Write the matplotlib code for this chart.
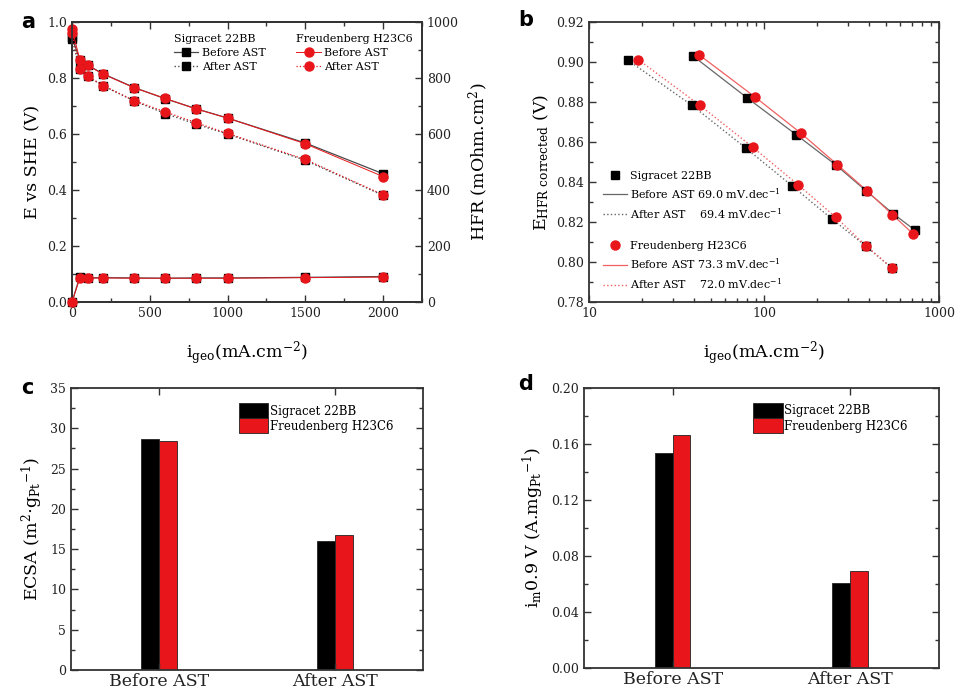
import matplotlib

matplotlib.use("Agg")
import matplotlib.pyplot as plt
import numpy as np
from matplotlib.lines import Line2D
from matplotlib.ticker import MultipleLocator, LogLocator, NullFormatter

plt.rcParams["font.family"] = ["DejaVu Serif"]
plt.rcParams["mathtext.fontset"] = "dejavuserif"

BLACK = "#000000"
RED = "#e8161b"
GREY = "#4a4a4a"
SPINE = "#333333"

# --- panel a: polarisation curves + HFR ---
i_geo = [0, 50, 100, 200, 400, 600, 800, 1000, 1500, 2000]
sig_before = [0.945, 0.866, 0.846, 0.815, 0.766, 0.726, 0.690, 0.657, 0.568, 0.458]
sig_after = [0.940, 0.831, 0.806, 0.772, 0.718, 0.673, 0.635, 0.600, 0.506, 0.381]
fr_before = [0.976, 0.866, 0.845, 0.814, 0.765, 0.727, 0.689, 0.657, 0.565, 0.448]
fr_after = [0.960, 0.832, 0.807, 0.773, 0.719, 0.679, 0.640, 0.602, 0.509, 0.383]
hfr_sig = [0, 90, 86, 87, 86, 85, 86, 86, 88, 91]
hfr_fr = [0, 85, 85, 86, 85, 85, 85, 85, 87, 89]

# --- panel b: Tafel plots ---
tafel_sig_before_i = [39.3, 80.3, 153, 259, 384, 546, 726]
tafel_sig_before_e = [0.903, 0.882, 0.8636, 0.8483, 0.8355, 0.8242, 0.8160]
tafel_sig_after_i = [16.7, 38.8, 78.6, 145, 243, 381, 541]
tafel_sig_after_e = [0.9009, 0.8783, 0.8570, 0.8380, 0.8217, 0.8080, 0.7968]
tafel_fr_before_i = [42.7, 88.5, 162, 262, 389, 541, 710]
tafel_fr_before_e = [0.9035, 0.8826, 0.8645, 0.8487, 0.8355, 0.8237, 0.8141]
tafel_fr_after_i = [19.1, 42.9, 86.5, 157, 257, 384, 541]
tafel_fr_after_e = [0.9012, 0.8784, 0.8573, 0.8385, 0.8224, 0.8080, 0.7968]
slopes = {"sig_before": "69.0", "sig_after": "69.4", "fr_before": "73.3", "fr_after": "72.0"}

# --- panels c, d: bars ---
stages = ["Before AST", "After AST"]
ecsa_sig = [28.64, 16.07]
ecsa_fr = [28.39, 16.74]
im_sig = [0.1539, 0.0606]
im_fr = [0.1665, 0.0696]

XLABEL = r"i$_{\mathrm{geo}}$(mA.cm$^{\mathrm{-2}}$)"


def style_axes(ax):
    for sp in ax.spines.values():
        sp.set_color(SPINE)
        sp.set_linewidth(1.3)
    ax.tick_params(which="both", direction="in", colors=SPINE, labelcolor="#222222",
                   labelsize=9, width=1.0)
    ax.tick_params(which="major", length=5)
    ax.tick_params(which="minor", length=3)


fig = plt.figure(figsize=(9.55, 6.97), dpi=100)

# ---------------- a ----------------
ax = fig.add_axes([0.0754, 0.5667, 0.3665, 0.4017])
style_axes(ax)
ax.plot(i_geo, sig_before, "-", color=GREY, lw=0.9, marker="s", ms=5.5, mfc=BLACK, mec=BLACK, clip_on=False, zorder=3)
ax.plot(i_geo, sig_after, ":", color=GREY, lw=1.0, marker="s", ms=5.5, mfc=BLACK, mec=BLACK, clip_on=False, zorder=3)
ax.plot(i_geo, fr_before, "-", color=RED, lw=0.7, marker="o", ms=6.5, mfc=RED, mec=RED, clip_on=False, zorder=4)
ax.plot(i_geo, fr_after, ":", color=RED, lw=0.9, marker="o", ms=6.5, mfc=RED, mec=RED, clip_on=False, zorder=4)
ax.set_xlim(0, 2250)
ax.set_ylim(0, 1.0)
ax.xaxis.set_major_locator(MultipleLocator(500))
ax.xaxis.set_minor_locator(MultipleLocator(250))
ax.yaxis.set_major_locator(MultipleLocator(0.2))
ax.yaxis.set_minor_locator(MultipleLocator(0.1))
ax.tick_params(which="both", top=True)
ax.set_ylabel("E vs SHE (V)", fontsize=12.5)
ax.set_xlabel(XLABEL, fontsize=12.5, labelpad=14)

ax2 = ax.twinx()
style_axes(ax2)
ax2.plot(i_geo, hfr_sig, "-", color=GREY, lw=0.9, marker="s", ms=5.5, mfc=BLACK, mec=BLACK, clip_on=False, zorder=3)
ax2.plot(i_geo, hfr_fr, "-", color=RED, lw=0.7, marker="o", ms=6.5, mfc=RED, mec=RED, clip_on=False, zorder=4)
ax2.set_ylim(0, 1000)
ax2.yaxis.set_major_locator(MultipleLocator(200))
ax2.yaxis.set_minor_locator(MultipleLocator(100))
ax2.set_ylabel(r"HFR (mOhm.cm$^{2}$)", fontsize=12.5, labelpad=6)

h_sb = Line2D([], [], color=GREY, lw=0.9, ls="-", marker="s", ms=5.5, mfc=BLACK, mec=BLACK)
h_sa = Line2D([], [], color=GREY, lw=1.0, ls=":", marker="s", ms=5.5, mfc=BLACK, mec=BLACK)
h_fb = Line2D([], [], color=RED, lw=0.7, ls="-", marker="o", ms=6.5, mfc=RED, mec=RED)
h_fa = Line2D([], [], color=RED, lw=0.9, ls=":", marker="o", ms=6.5, mfc=RED, mec=RED)
kw = dict(loc="upper left", frameon=False, fontsize=8, title_fontsize=8, handlelength=2.2,
          handletextpad=0.3, labelspacing=0.35, borderpad=0.2, borderaxespad=0, alignment="left")
leg1 = ax2.legend([h_sb, h_sa], ["Before AST", "After AST"], title="Sigracet 22BB",
                  bbox_to_anchor=(0.285, 0.965), **kw)
ax2.add_artist(leg1)
ax2.legend([h_fb, h_fa], ["Before AST", "After AST"], title="Freudenberg H23C6",
           bbox_to_anchor=(0.635, 0.965), **kw)

# ---------------- b ----------------
bx = fig.add_axes([0.6168, 0.5667, 0.3665, 0.4017])
style_axes(bx)
bx.set_xscale("log")
ln_sb, = bx.plot(tafel_sig_before_i, tafel_sig_before_e, "-", color="#666666", lw=0.9)
ln_sa, = bx.plot(tafel_sig_after_i, tafel_sig_after_e, ":", color="#666666", lw=1.0)
ln_fb, = bx.plot(tafel_fr_before_i, tafel_fr_before_e, "-", color="#f06060", lw=0.9)
ln_fa, = bx.plot(tafel_fr_after_i, tafel_fr_after_e, ":", color="#f06060", lw=1.0)
mk_s, = bx.plot(tafel_sig_before_i + tafel_sig_after_i, tafel_sig_before_e + tafel_sig_after_e,
                "s", color=BLACK, ms=5.5, ls="none", zorder=3)
mk_f, = bx.plot(tafel_fr_before_i + tafel_fr_after_i, tafel_fr_before_e + tafel_fr_after_e,
                "o", color=RED, ms=6.5, ls="none", zorder=4)
bx.set_xlim(10, 1000)
bx.set_ylim(0.78, 0.92)
bx.yaxis.set_major_locator(MultipleLocator(0.02))
bx.yaxis.set_minor_locator(MultipleLocator(0.01))
bx.xaxis.set_major_locator(LogLocator(base=10))
bx.xaxis.set_minor_locator(LogLocator(base=10, subs=np.arange(2, 10)))
bx.xaxis.set_minor_formatter(NullFormatter())
bx.xaxis.set_major_formatter(plt.FuncFormatter(lambda v, p: f"{v:g}"))
bx.yaxis.set_major_formatter(plt.FuncFormatter(lambda v, p: f"{v:.2f}"))
bx.tick_params(which="both", top=True, right=True)
bx.set_ylabel(r"E$_{\mathrm{HFR\ corrected}}$ (V)", fontsize=12.5)
bx.set_xlabel(XLABEL, fontsize=12.5, labelpad=14)
blank = Line2D([], [], color="none")
bx.legend([mk_s, ln_sb, ln_sa, blank, mk_f, ln_fb, ln_fa],
          ["Sigracet 22BB",
           "Before AST " + slopes["sig_before"] + r" mV.dec$^{-1}$",
           "After AST    " + slopes["sig_after"] + r" mV.dec$^{-1}$",
           "",
           "Freudenberg H23C6",
           "Before AST " + slopes["fr_before"] + r" mV.dec$^{-1}$",
           "After AST    " + slopes["fr_after"] + r" mV.dec$^{-1}$"],
          loc="lower left", bbox_to_anchor=(0.02, 0.015), frameon=False, fontsize=8,
          handlelength=2.2, handletextpad=0.3, labelspacing=0.48, borderpad=0.3, borderaxespad=0.3)


# ---------------- c, d ----------------
def bar_panel(rect, sig, fr, ymax, major, minor, fmt, ylabel):
    a = fig.add_axes(rect)
    style_axes(a)
    x = np.arange(len(stages))
    w = 0.1
    a.bar(x - w / 2, sig, w, color=BLACK, edgecolor="#222222", lw=0.6, label="Sigracet 22BB")
    a.bar(x + w / 2, fr, w, color=RED, edgecolor="#222222", lw=0.6, label="Freudenberg H23C6")
    a.set_xlim(-0.5, 1.5)
    a.set_ylim(0, ymax)
    a.set_xticks(x)
    a.set_xticklabels(stages, fontsize=12.5)
    a.yaxis.set_major_locator(MultipleLocator(major))
    a.yaxis.set_minor_locator(MultipleLocator(minor))
    a.yaxis.set_major_formatter(plt.FuncFormatter(fmt))
    a.tick_params(which="both", top=True, right=True)
    a.tick_params(axis="x", pad=2)
    a.set_ylabel(ylabel, fontsize=12.5)
    a.legend(loc="upper left", bbox_to_anchor=(0.47, 0.955), frameon=False, fontsize=8.5,
             handlelength=2.5, handleheight=1.6, handletextpad=0.15, labelspacing=0.0,
             borderpad=0.2, borderaxespad=0)
    return a


bar_panel([0.0743, 0.0387, 0.3686, 0.4046], ecsa_sig, ecsa_fr, 35, 5, 2.5,
          lambda v, p: f"{v:g}", r"ECSA (m$^{2}$$\cdot$g$_{\mathrm{Pt}}$$^{\mathrm{-1}}$)")
bar_panel([0.6115, 0.0416, 0.3717, 0.4017], im_sig, im_fr, 0.2, 0.04, 0.02,
          lambda v, p: f"{v:.2f}", r"i$_{\mathrm{m}}$0.9 V (A.mg$_{\mathrm{Pt}}$$^{\mathrm{-1}}$)")

# panel letters
for lbl, (x, y) in {"a": (0.022, 0.968), "b": (0.543, 0.972), "c": (0.022, 0.444), "d": (0.543, 0.449)}.items():
    fig.text(x, y, lbl, fontsize=15, fontweight="bold", family="DejaVu Sans", va="center")

fig.savefig("out.png", dpi=100)
